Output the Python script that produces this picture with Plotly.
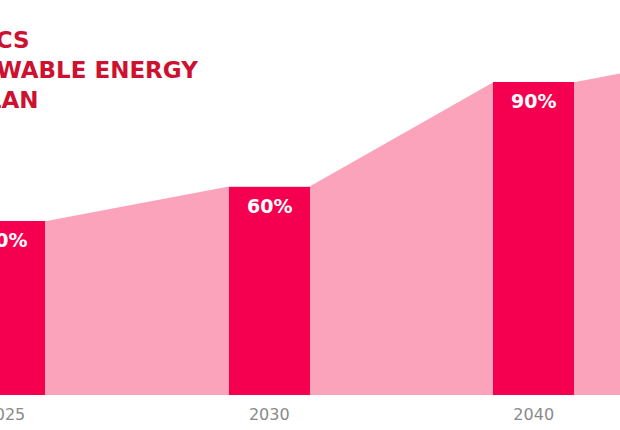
import plotly.graph_objects as go

years = ["2025", "2030", "2040", "2050"]
shares = [50, 60, 90, 100]
labels = ["50%", "60%", "90%", "100%"]
title_lines = ["ELECTRONICS", "RENEWABLE ENERGY", "PLAN"]

BAR = "#F50050"
AREA = "#FCA3BC"
RED = "#CC1230"

W, H = 620, 430
pos = list(range(len(years)))
bw = 0.305
spacing_px = 264.4
x0 = -4.9 / spacing_px
x1 = x0 + W / spacing_px
plot_h = 395
ymax = plot_h / 3.475

# area path through the bar top corners
ax, ay = [], []
for p, v in zip(pos, shares):
    ax += [p - bw / 2, p + bw / 2]
    ay += [v, v]

fig = go.Figure()
fig.add_trace(go.Scatter(x=ax, y=ay, mode="lines", fill="tozeroy",
                         fillcolor=AREA, line=dict(width=0), hoverinfo="skip",
                         xaxis="x", yaxis="y"))
fig.add_trace(go.Bar(x=pos, y=shares, width=bw, marker=dict(color=BAR, line=dict(width=0)),
                     xaxis="x2", yaxis="y2"))

ann = []
for p, v, t in zip(pos, shares, labels):
    ann.append(dict(x=p, y=v, xref="x2", yref="y2", text=t, showarrow=False,
                    yanchor="middle", yshift=-19,
                    font=dict(family="DejaVu Sans", size=19, color="white", weight="bold")))

title_right = [32, 200, 41]
title_y = [40, 70, 100]
for t, r, yy in zip(title_lines, title_right, title_y):
    ann.append(dict(x=r / W, y=1 - yy / plot_h, xref="paper", yref="paper", text=t,
                    showarrow=False, xanchor="right", yanchor="middle",
                    font=dict(family="DejaVu Sans", size=23, color=RED, weight="bold")))

axis_common = dict(range=[x0, x1], showgrid=False, zeroline=False, showline=False,
                   automargin=False)
fig.update_layout(
    width=W, height=H,
    margin=dict(l=0, r=0, t=0, b=H - plot_h, autoexpand=False),
    paper_bgcolor="white", plot_bgcolor="white",
    showlegend=False,
    bargap=0,
    xaxis=dict(**axis_common, tickvals=pos, ticktext=years,
               ticks="outside", ticklen=5, tickcolor="rgba(0,0,0,0)",
               ticklabeloverflow="allow",
               tickfont=dict(family="DejaVu Sans", size=16, color="#8A8A8A")),
    yaxis=dict(range=[0, ymax], showgrid=False, zeroline=False, showticklabels=False,
               automargin=False),
    xaxis2=dict(**axis_common, overlaying="x", matches="x", showticklabels=False),
    yaxis2=dict(range=[0, ymax], overlaying="y", matches="y", showgrid=False,
                zeroline=False, showticklabels=False, automargin=False),
    annotations=ann,
)

fig.write_html("out.html", config={"displayModeBar": False},
               post_script="document.body.style.margin='0';document.body.style.overflow='hidden';")
